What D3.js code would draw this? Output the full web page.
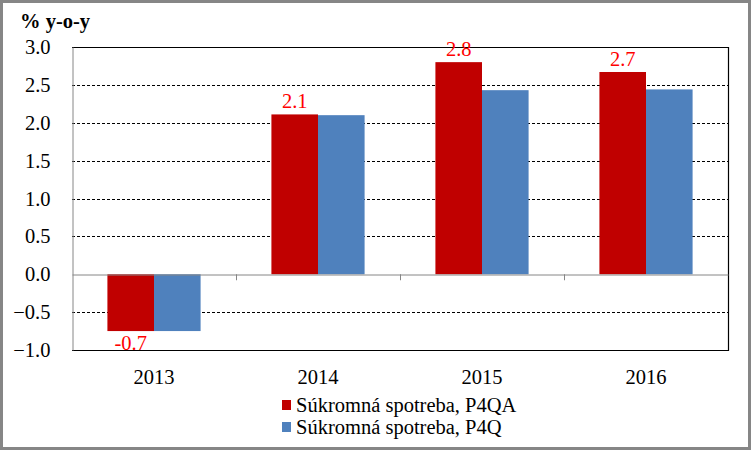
<!DOCTYPE html>
<html><head><meta charset="utf-8">
<script src="https://cdn.jsdelivr.net/npm/d3@7"></script>
<style>body{margin:0;background:#fff}svg{display:block}</style>
</head><body><svg id="c" width="752" height="452"></svg>
<script>
const categories = ["2013","2014","2015","2016"];
const seriesNames = ["Súkromná spotreba, P4QA","Súkromná spotreba, P4Q"];
const p4qa = [-0.75, 2.11, 2.80, 2.67];
const p4q = [-0.75, 2.10, 2.43, 2.44];
const labels = ["-0.7","2.1","2.8","2.7"];
const yTicks = [-1.0,-0.5,0.0,0.5,1.0,1.5,2.0,2.5,3.0];
const colors = ["#C00000","#4F81BD"];

const svg = d3.select("#c");
const font = "'Liberation Serif','Times New Roman',serif";
const fs = 20.5;
const L=72, R=728, T=47, B=350;
const x = d3.scaleBand().domain(categories).range([L,R]).paddingInner(0).paddingOuter(0);
const y = d3.scaleLinear().domain([-1,3]).range([B,T]);
const inner = d3.scaleBand().domain([0,1]).range([0,x.bandwidth()]).paddingOuter(0.76).paddingInner(0);

svg.append("rect").attr("x",1.5).attr("y",1.5).attr("width",748).attr("height",447)
  .attr("fill","#fff").attr("stroke","#868686").attr("stroke-width",3);

// gridlines
svg.append("g").selectAll("line").data(yTicks.filter(v=>v!==0 && v!==3 && v!==-1)).join("line")
  .attr("x1",L).attr("x2",R).attr("y1",d=>Math.round(y(d))+0.5).attr("y2",d=>Math.round(y(d))+0.5)
  .attr("stroke","#000").attr("stroke-width",1).attr("stroke-dasharray","3,2");
// box top/right/bottom
svg.append("path").attr("d",`M${L},${Math.round(y(3))+0.5}H${R+0.5}V${Math.round(y(-1))+0.5}H${L}`)
  .attr("fill","none").attr("stroke","#000").attr("stroke-width",1.2);

// bars
const series = [p4qa,p4q];
series.forEach((vals,si)=>{
  svg.append("g").selectAll("rect").data(vals).join("rect")
    .attr("x",(d,i)=>x(categories[i])+inner(si))
    .attr("width",inner.bandwidth())
    .attr("y",d=>y(Math.max(0,d)))
    .attr("height",d=>Math.abs(y(d)-y(0)))
    .attr("fill",colors[si]);
});

// y axis
const yAxis = d3.axisLeft(y).tickValues(yTicks).tickFormat(d3.format(".1f")).tickSize(0).tickPadding(22);
const ga = svg.append("g").attr("transform",`translate(${L+0.5},0)`).call(yAxis);
ga.select(".domain").attr("stroke","#868686");
ga.selectAll("text").attr("font-family",font).attr("font-size",fs).attr("fill","#000");

// zero line with ticks
const gz = svg.append("g").attr("transform",`translate(0,${Math.round(y(0))+0.5})`)
  .call(d3.axisBottom(x).tickSize(0).tickFormat(""));
gz.select(".domain").attr("stroke","#868686");
svg.append("g").selectAll("line").data(categories.slice(1)).join("line")
  .attr("x1",d=>Math.round(x(d))+0.5).attr("x2",d=>Math.round(x(d))+0.5)
  .attr("y1",y(0)).attr("y2",y(0)+6).attr("stroke","#868686");

// category labels
svg.append("g").selectAll("text").data(categories).join("text")
  .attr("x",d=>x(d)+x.bandwidth()/2).attr("y",384).attr("text-anchor","middle")
  .attr("font-family",font).attr("font-size",fs).text(d=>d);

// data labels
svg.append("g").selectAll("text").data(p4qa).join("text")
  .attr("x",(d,i)=>x(categories[i])+inner(0)+inner.bandwidth()/2)
  .attr("y",d=>d<0? y(d)+19 : y(d)-6)
  .attr("text-anchor","middle").attr("font-family",font).attr("font-size",fs)
  .attr("fill","#FF0000").text((d,i)=>labels[i]);

// title
svg.append("text").attr("x",20).attr("y",28).attr("font-family",font).attr("font-size",fs)
  .attr("font-weight","bold").text("% y-o-y");

// legend
const lg = svg.append("g").selectAll("g").data(seriesNames).join("g")
  .attr("transform",(d,i)=>`translate(282,${400+i*22})`);
lg.append("rect").attr("width",9).attr("height",10).attr("fill",(d,i)=>colors[i]);
lg.append("text").attr("x",14).attr("y",12).attr("font-family",font).attr("font-size",fs).text(d=>d);
</script></body></html>
